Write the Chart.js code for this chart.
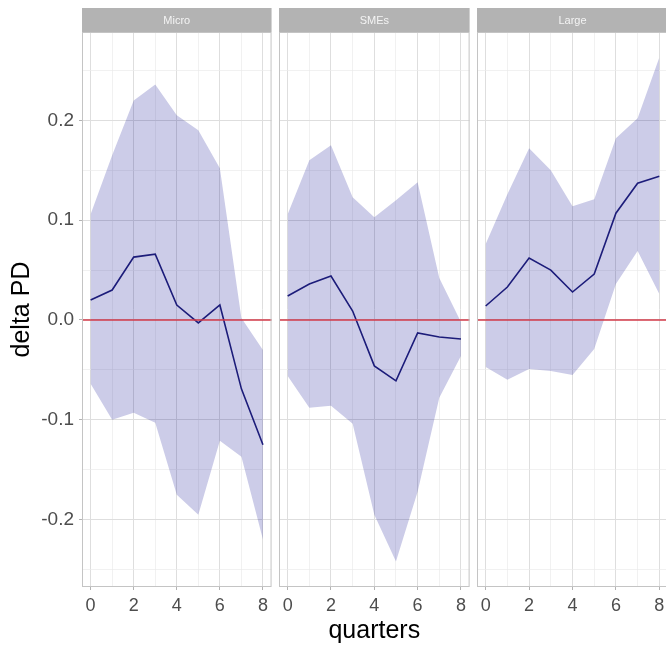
<!DOCTYPE html>
<html>
<head>
<meta charset="utf-8">
<script src="https://cdn.jsdelivr.net/npm/chart.js@4/dist/chart.umd.min.js"></script>
<style>
  body { margin: 0; background: #fff; overflow: hidden; width: 666px; height: 646px; position: relative; }
  canvas { position: absolute; top: 0; }
</style>
</head>
<body>
<canvas id="c0" width="273" height="646" style="left:0"></canvas>
<canvas id="c1" width="201" height="646" style="left:270px"></canvas>
<canvas id="c2" width="200" height="646" style="left:470px"></canvas>
<script>
// data
const panels = ['Micro', 'SMEs', 'Large'];
const quarters = [0, 1, 2, 3, 4, 5, 6, 7, 8];

const microMean  = [0.020, 0.030, 0.063, 0.066, 0.015, -0.003, 0.015, -0.069, -0.125];
const microUpper = [0.106, 0.165, 0.220, 0.236, 0.205, 0.190, 0.152, 0.002, -0.030];
const microLower = [-0.064, -0.100, -0.093, -0.103, -0.175, -0.195, -0.121, -0.137, -0.220];

const smesMean  = [0.024, 0.036, 0.044, 0.009, -0.046, -0.061, -0.013, -0.017, -0.019];
const smesUpper = [0.106, 0.160, 0.175, 0.123, 0.103, 0.120, 0.138, 0.042, -0.002];
const smesLower = [-0.056, -0.088, -0.086, -0.104, -0.195, -0.242, -0.172, -0.078, -0.036];

const largeMean  = [0.014, 0.033, 0.062, 0.050, 0.028, 0.046, 0.107, 0.137, 0.144];
const largeUpper = [0.076, 0.126, 0.172, 0.150, 0.114, 0.121, 0.182, 0.202, 0.263];
const largeLower = [-0.047, -0.060, -0.049, -0.051, -0.055, -0.029, 0.036, 0.069, 0.026];

const xTicks = [0, 1, 2, 3, 4, 5, 6, 7, 8];
const yTicks = [-0.25, -0.2, -0.15, -0.1, -0.05, 0, 0.05, 0.1, 0.15, 0.2, 0.25];

const series = [
  [microMean, microUpper, microLower],
  [smesMean, smesUpper, smesLower],
  [largeMean, largeUpper, largeLower]
];

const FONT = '"Liberation Sans", Arial, Helvetica, sans-serif';
const pts = arr => quarters.map((q, i) => ({ x: q, y: arr[i] }));
const isMajorY = v => Math.abs(v * 10 - Math.round(v * 10)) < 1e-6;

// strip, panel border and zero line
const panelPlugin = {
  id: 'panel',
  beforeDraw(chart) {
    const { ctx, chartArea: a } = chart;
    ctx.save();
    ctx.fillStyle = '#b3b3b3';
    ctx.fillRect(a.left, 8, a.right - a.left, a.top - 8);
    ctx.fillStyle = '#f4f4f4';
    ctx.font = '11px ' + FONT;
    ctx.textAlign = 'center';
    ctx.textBaseline = 'middle';
    ctx.fillText(chart.options.plugins.panel.label, (a.left + a.right) / 2, (8 + a.top) / 2 + 1);
    ctx.restore();
  },
  afterDatasetsDraw(chart) {
    const { ctx, chartArea: a, scales } = chart;
    const y0 = scales.y.getPixelForValue(0);
    ctx.save();
    ctx.strokeStyle = '#d23a48';
    ctx.lineWidth = 1.6;
    ctx.beginPath();
    ctx.moveTo(a.left, y0);
    ctx.lineTo(a.right, y0);
    ctx.stroke();
    ctx.strokeStyle = '#c4c4c4';
    ctx.lineWidth = 1;
    ctx.strokeRect(a.left + 0.5, a.top + 0.5, a.right - a.left - 1, a.bottom - a.top - 1);
    ctx.restore();
  }
};

function makeChart(idx, pad) {
  const [mean, upper, lower] = series[idx];
  const first = idx === 0;
  return new Chart(document.getElementById('c' + idx), {
    type: 'line',
    data: {
      datasets: [
        { data: pts(mean), borderColor: '#1c1c7a', borderWidth: 1.6, pointRadius: 0, fill: false },
        { data: pts(upper), borderWidth: 0, pointRadius: 0, backgroundColor: 'rgba(0,0,139,0.2)', fill: '+1' },
        { data: pts(lower), borderWidth: 0, pointRadius: 0, fill: false }
      ]
    },
    options: {
      responsive: false,
      animation: false,
      layout: { padding: pad },
      plugins: { legend: { display: false }, tooltip: { enabled: false }, panel: { label: panels[idx] } },
      scales: {
        x: {
          type: 'linear', min: -0.4, max: 8.4,
          afterBuildTicks: s => { s.ticks = xTicks.map(v => ({ value: v })); },
          afterFit: s => { s.height = 59; },
          border: { display: false },
          grid: {
            color: c => c.tick.value % 2 === 0 ? '#dedede' : '#ebebeb',
            lineWidth: c => c.tick.value % 2 === 0 ? 1 : 0.7,
            tickLength: 3,
            tickColor: c => c.tick.value % 2 === 0 ? '#b3b3b3' : 'rgba(0,0,0,0)'
          },
          ticks: {
            padding: 5, maxRotation: 0, autoSkip: false,
            color: '#4d4d4d', font: { family: FONT, size: 18 },
            callback: v => v % 2 === 0 ? String(v) : ''
          },
          title: {
            display: idx === 1, text: 'quarters', color: '#000',
            font: { family: FONT, size: 25 }, padding: { top: 0, bottom: 0 }
          }
        },
        y: {
          type: 'linear', min: -0.2675, max: 0.2885,
          afterBuildTicks: s => { s.ticks = yTicks.map(v => ({ value: v })); },
          afterFit: s => { s.width = first ? 82 : 0; },
          border: { display: false },
          grid: {
            color: c => isMajorY(c.tick.value) ? '#dedede' : '#ebebeb',
            lineWidth: c => isMajorY(c.tick.value) ? 1 : 0.7,
            tickLength: first ? 3 : 0,
            tickColor: c => isMajorY(c.tick.value) ? '#b3b3b3' : 'rgba(0,0,0,0)'
          },
          ticks: {
            display: first, padding: 5, autoSkip: false,
            color: '#4d4d4d', font: { family: FONT, size: 19 },
            callback: v => isMajorY(v) ? v.toFixed(1) : ''
          },
          title: {
            display: first, text: 'delta PD', color: '#000',
            font: { family: FONT, size: 25 }, padding: { top: 7, bottom: 0 }
          }
        }
      }
    },
    plugins: [panelPlugin]
  });
}

makeChart(0, { top: 32, right: 1, left: 0, bottom: 0 });
makeChart(1, { top: 32, right: 1, left: 9, bottom: 0 });
makeChart(2, { top: 32, right: 2, left: 7, bottom: 0 });
</script>
</body>
</html>
